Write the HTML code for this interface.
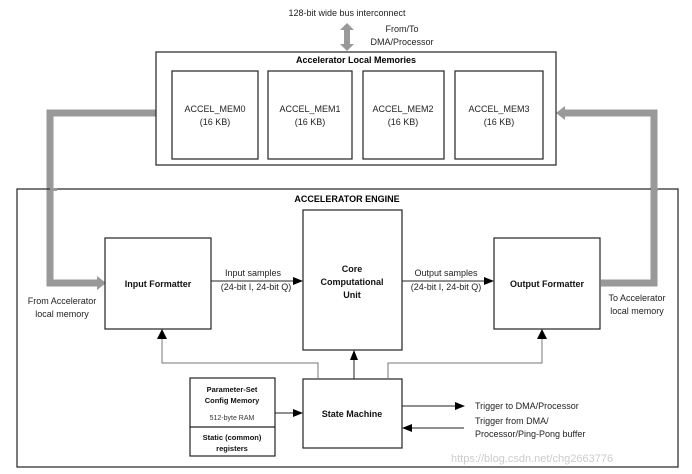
<!DOCTYPE html>
<html><head><meta charset="utf-8"><style>
html,body{margin:0;padding:0;background:#fff;}
svg{display:block;font-family:"Liberation Sans",Arial,sans-serif;}
</style></head><body>
<svg width="692" height="474" viewBox="0 0 692 474" xmlns="http://www.w3.org/2000/svg">
<defs>
<marker id="ah" markerWidth="10" markerHeight="8" refX="9" refY="4" orient="auto" markerUnits="userSpaceOnUse"><path d="M0,0 L10,4 L0,8 Z" fill="#000"/></marker>
</defs>
<rect width="692" height="474" fill="#fff"/>
<g font-size="9" fill="#222" text-anchor="middle">
<text x="347" y="16">128-bit wide bus interconnect</text>
<text x="402" y="32">From/To</text>
<text x="402" y="45">DMA/Processor</text>
</g>
<polygon points="347,23 354,30 350,30 350,44 354,44 347,51 340,44 344,44 344,30 340,30" fill="#999"/>
<polyline points="156,113 50,113 50,283 98,283" fill="none" stroke="#999" stroke-width="7"/>
<polygon points="97,276 106,283 97,290" fill="#999"/>
<polyline points="601,283 654,283 654,113 564,113" fill="none" stroke="#999" stroke-width="7"/>
<polygon points="565,106 556,113 565,120" fill="#999"/>
<rect x="156" y="52" width="400" height="113" fill="none" stroke="#222" stroke-width="1.2"/>
<text x="356" y="63" font-size="9" font-weight="bold" text-anchor="middle">Accelerator Local Memories</text>
<g fill="none" stroke="#222" stroke-width="1.2">
<rect x="172" y="71" width="86" height="88"/>
<rect x="268" y="71" width="84" height="88"/>
<rect x="363" y="71" width="81" height="88"/>
<rect x="455" y="71" width="88" height="88"/>
</g>
<g font-size="9" fill="#222" text-anchor="middle">
<text x="215" y="112">ACCEL_MEM0</text><text x="215" y="125">(16 KB)</text>
<text x="310" y="112">ACCEL_MEM1</text><text x="310" y="125">(16 KB)</text>
<text x="403" y="112">ACCEL_MEM2</text><text x="403" y="125">(16 KB)</text>
<text x="499" y="112">ACCEL_MEM3</text><text x="499" y="125">(16 KB)</text>
</g>
<rect x="17" y="189" width="661" height="278" fill="none" stroke="#222" stroke-width="1.2"/>
<rect x="50" y="188" width="7" height="3" fill="#999"/>
<rect x="651" y="188" width="7" height="3" fill="#999"/>
<text x="347" y="202" font-size="9" font-weight="bold" text-anchor="middle">ACCELERATOR ENGINE</text>
<g fill="#fff" stroke="#222" stroke-width="1.2">
<rect x="105" y="238" width="106" height="91"/>
<rect x="303" y="210" width="99" height="140"/>
<rect x="494" y="238" width="106" height="91"/>
<rect x="303" y="379" width="99" height="69"/>
<rect x="190" y="378" width="85" height="78"/>
</g>
<line x1="190" y1="427" x2="275" y2="427" stroke="#222" stroke-width="1.2"/>
<g font-size="9" font-weight="bold" text-anchor="middle" fill="#111">
<text x="158" y="287">Input Formatter</text>
<text x="352" y="272">Core</text><text x="352" y="285">Computational</text><text x="352" y="298">Unit</text>
<text x="547" y="287">Output Formatter</text>
<text x="352" y="417">State Machine</text>
<text x="232" y="392" font-size="7.5">Parameter-Set</text>
<text x="232" y="403" font-size="7.5">Config Memory</text>
<text x="232" y="440" font-size="7.5">Static (common)</text>
<text x="232" y="451" font-size="7.5">registers</text>
</g>
<text x="232" y="420" font-size="7" text-anchor="middle" fill="#333">512-byte RAM</text>
<g font-size="9" fill="#222" text-anchor="middle">
<text x="253" y="276">Input samples</text><text x="256" y="290">(24-bit I, 24-bit Q)</text>
<text x="446" y="276">Output samples</text><text x="446" y="290">(24-bit I, 24-bit Q)</text>
<text x="62" y="304">From Accelerator</text><text x="62" y="317">local memory</text>
<text x="637" y="301">To Accelerator</text><text x="637" y="314">local memory</text>
</g>
<g stroke="#222" stroke-width="1" fill="none">
<line x1="211" y1="281" x2="302" y2="281" marker-end="url(#ah)"/>
<line x1="402" y1="281" x2="493" y2="281" marker-end="url(#ah)"/>
<line x1="275" y1="413" x2="302" y2="413" marker-end="url(#ah)"/>
<line x1="402" y1="406" x2="464" y2="406" marker-end="url(#ah)"/>
<line x1="464" y1="428" x2="403" y2="428" marker-end="url(#ah)"/>
<line x1="354" y1="379" x2="354" y2="351" marker-end="url(#ah)"/>
</g>
<g stroke="#777" stroke-width="1" fill="none">
<polyline points="318,379 318,363 162,363 162,338"/>
<polyline points="388,379 388,363 542,363 542,338"/>
</g>
<polygon points="157,339 162,329 167,339" fill="#000"/>
<polygon points="537,339 542,329 547,339" fill="#000"/>
<g font-size="9" fill="#222">
<text x="475" y="409">Trigger to DMA/Processor</text>
<text x="475" y="424">Trigger from DMA/</text>
<text x="475" y="437">Processor/Ping-Pong buffer</text>
</g>
<text x="451" y="462" font-size="11" fill="#ccc">https://blog.csdn.net/chg2663776</text>
</svg>
</body></html>
